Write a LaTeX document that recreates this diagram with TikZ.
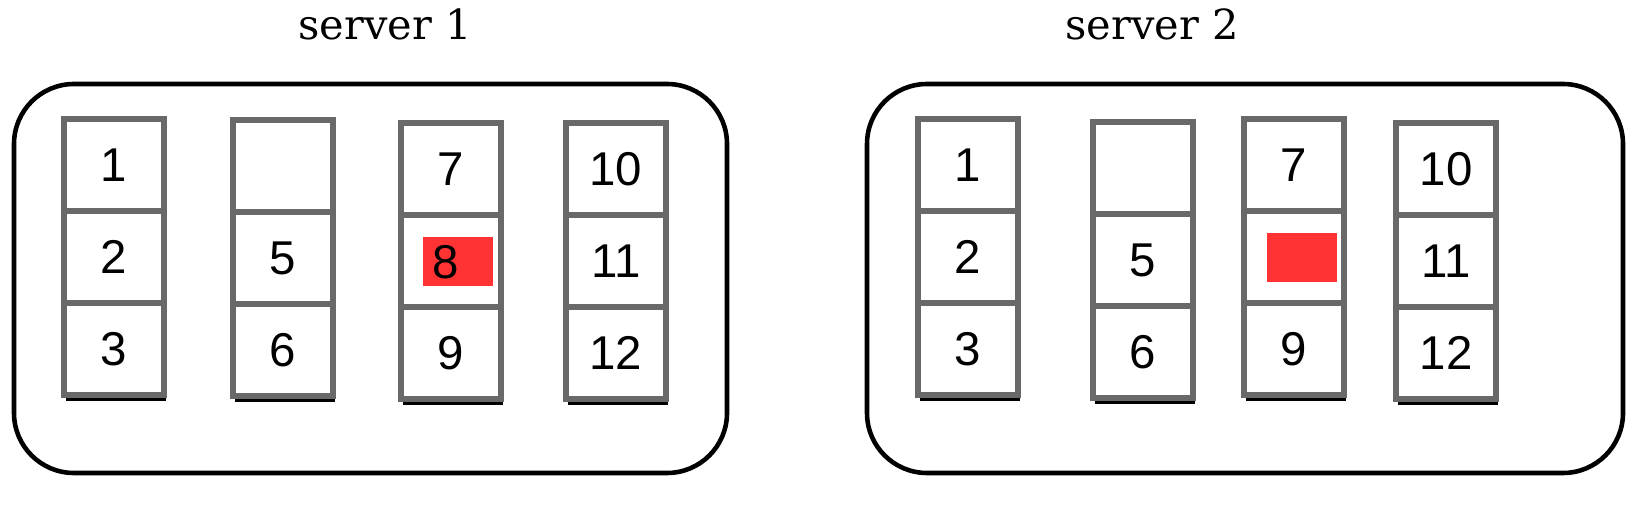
\documentclass[tikz,border=0pt]{standalone}
\usepackage{fontspec}
\setmainfont{DejaVu Serif}
\newfontfamily\numfont{Liberation Sans}
\usetikzlibrary{shadows}
\definecolor{slotgray}{RGB}{105,105,105}
\definecolor{hotred}{RGB}{255,51,51}
\begin{document}
\begin{tikzpicture}[x=0.1mm, y=-0.1mm]
	\tikzstyle{Cell} = [rectangle, minimum width=10mm, minimum height=9.2mm, inner sep=0pt, text centered, draw=slotgray, line width=1.5pt, fill=white, drop shadow={shadow xshift=0.15mm, shadow yshift=-0.6mm, fill=black, opacity=1}, font=\numfont\fontsize{13.5}{16}\selectfont]
	\tikzstyle{Mark} = [rectangle, minimum width=7mm, minimum height=4.9mm, inner sep=0pt, fill=hotred]
	\tikzstyle{Title} = [font=\fontsize{11.8}{14}\selectfont]
	\useasboundingbox (0,0) rectangle (1638,508);
	
	% server 1
	\node (title1) [Title] at (385,24) {server 1};
	\draw [line width=1.3pt, rounded corners=6mm] (14,84) rectangle (727,473);
	\node (s1n1) [Cell] at (114,165) {1};
	\node (s1n2) [Cell] at (114,257) {2};
	\node (s1n3) [Cell] at (114,349) {3};
	
	\node (s1n4) [Cell] at (283,166) {};
	\node (s1n5) [Cell] at (283,258) {5};
	\node (s1n6) [Cell] at (283,350) {6};
	
	\node (s1n7) [Cell] at (451,169) {7};
	\node (s1n8) [Cell] at (451,261) {};
	\node (s1n9) [Cell] at (451,353) {9};
	\node (s1hot) [Mark] at (458,261.5) {};
	\node (s1lbl8) [font=\numfont\fontsize{13.5}{16}\selectfont] at (446,262) {8};
	
	\node (s1n10) [Cell] at (616,169) {10};
	\node (s1n11) [Cell] at (616,261) {11};
	\node (s1n12) [Cell] at (616,353) {12};
	
	% server 2
	\node (title2) [Title] at (1152,24) {server 2};
	\draw [line width=1.3pt, rounded corners=6mm] (867,84) rectangle (1623,473);
	\node (s2n1) [Cell] at (968,165) {1};
	\node (s2n2) [Cell] at (968,257) {2};
	\node (s2n3) [Cell] at (968,349) {3};
	
	\node (s2n4) [Cell] at (1143,168) {};
	\node (s2n5) [Cell] at (1143,260) {5};
	\node (s2n6) [Cell] at (1143,352) {6};
	
	\node (s2n7) [Cell] at (1294,165) {7};
	\node (s2n8) [Cell] at (1294,257) {};
	\node (s2n9) [Cell] at (1294,349) {9};
	\node (s2hot) [Mark] at (1302,257.5) {};
	
	\node (s2n10) [Cell] at (1446,169) {10};
	\node (s2n11) [Cell] at (1446,261) {11};
	\node (s2n12) [Cell] at (1446,353) {12};
\end{tikzpicture}
\end{document}
